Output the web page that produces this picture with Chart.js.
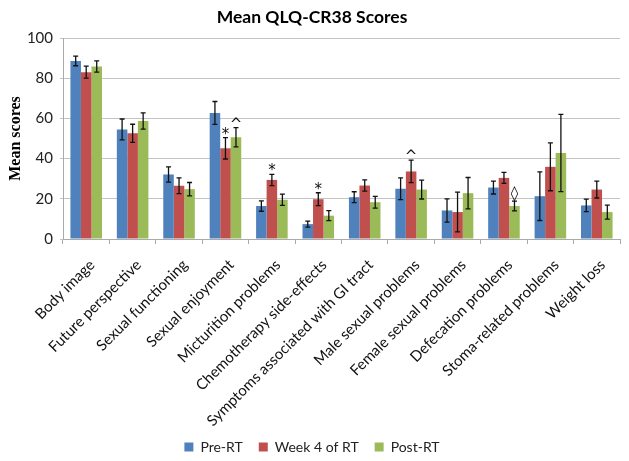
<!DOCTYPE html>
<html>
<head>
<meta charset="utf-8">
<script src="https://cdn.jsdelivr.net/npm/chart.js@4"></script>
<style>
  html, body { margin: 0; padding: 0; background: #fff; }
  #wrap { width: 629px; height: 461px; }
</style>
</head>
<body>
<div id="wrap"><canvas id="qlqChart" width="629" height="461"></canvas></div>
<script>
// values
const categories = ['Body image', 'Future perspective', 'Sexual functioning', 'Sexual enjoyment',
  'Micturition problems', 'Chemotherapy side-effects', 'Symptoms associated with GI tract',
  'Male sexual problems', 'Female sexual problems', 'Defecation problems',
  'Stoma-related problems', 'Weight loss'];
const seriesNames = ['Pre-RT', 'Week 4 of RT', 'Post-RT'];

const preRT     = [88.6, 54.5, 32.1, 62.7, 16.4, 7.4, 20.8, 25.0, 14.2, 25.6, 21.3, 16.7];
const preRTErr  = [2.4, 5.2, 3.8, 5.7, 2.6, 1.5, 2.7, 5.4, 5.8, 3.2, 12.1, 3.1];
const week4     = [83.0, 52.6, 26.5, 45.1, 29.4, 19.8, 26.6, 33.6, 13.4, 30.4, 35.9, 24.6];
const week4Err  = [3.0, 4.5, 3.9, 5.3, 2.8, 3.2, 2.8, 5.6, 9.9, 2.7, 11.9, 4.2];
const postRT    = [85.8, 58.7, 24.8, 50.6, 19.5, 11.6, 18.3, 24.6, 22.8, 16.4, 42.8, 13.4];
const postRTErr = [2.8, 4.0, 3.3, 4.8, 2.8, 2.5, 2.9, 4.7, 7.8, 2.4, 19.2, 3.5];

// significance markers above the bars
const preRTMarks  = ['', '', '', '', '', '', '', '', '', '', '', ''];
const week4Marks  = ['', '', '', '*', '*', '*', '', '^', '', '', '', ''];
const postRTMarks = ['', '', '', '^', '', '', '', '', '', '\u25CA', '', ''];

const yTicks = [0, 20, 40, 60, 80, 100];

const errors = [preRTErr, week4Err, postRTErr];
const marks = [preRTMarks, week4Marks, postRTMarks];

const errorBars = {
  id: 'errorBars',
  afterLayout(chart) {
    // nudge the legend down a little, and let the long x labels run into the legend band
    chart.legend.top += 3;
    chart.legend.bottom += 3;
    chart.scales.x.bottom += 20;
  },
  afterDatasetsDraw(chart) {
    const ctx = chart.ctx;
    const y = chart.scales.y;
    ctx.save();
    chart.data.datasets.forEach((ds, i) => {
      const meta = chart.getDatasetMeta(i);
      meta.data.forEach((bar, j) => {
        const v = ds.data[j], e = errors[i][j];
        const top = y.getPixelForValue(v + e);
        const bot = y.getPixelForValue(v - e);
        ctx.strokeStyle = '#111';
        ctx.lineWidth = 1.3;
        ctx.beginPath();
        ctx.moveTo(bar.x, top); ctx.lineTo(bar.x, bot);
        ctx.moveTo(bar.x - 2.5, top); ctx.lineTo(bar.x + 2.5, top);
        ctx.moveTo(bar.x - 2.5, bot); ctx.lineTo(bar.x + 2.5, bot);
        ctx.stroke();
        const m = marks[i][j];
        if (m) {
          ctx.fillStyle = '#111';
          ctx.font = '15px "DejaVu Sans"';
          ctx.textAlign = 'center';
          ctx.textBaseline = 'alphabetic';
          ctx.fillText(m, bar.x, m === '\u25CA' ? top - 3 : top + 1);
        }
      });
    });
    ctx.restore();
  }
};

function init() {
  new Chart(document.getElementById('qlqChart').getContext('2d'), {
    type: 'bar',
    data: {
      labels: categories,
      datasets: [
        { label: seriesNames[0], data: preRT, backgroundColor: '#4F81BD' },
        { label: seriesNames[1], data: week4, backgroundColor: '#C0504D' },
        { label: seriesNames[2], data: postRT, backgroundColor: '#9BBB59' }
      ]
    },
    options: {
      responsive: false,
      animation: false,
      categoryPercentage: 0.68,
      barPercentage: 1.0,
      layout: { padding: { left: 4, right: 9, top: 4, bottom: 0 } },
      plugins: {
        title: {
          display: true, text: 'Mean QLQ-CR38 Scores', color: '#000',
          font: { family: 'Lato', size: 17.5, weight: 'bold' },
          padding: { top: 3, bottom: 10 }
        },
        legend: {
          position: 'bottom',
          labels: {
            color: '#222', boxWidth: 9, boxHeight: 9, padding: 16,
            font: { family: 'Lato', size: 14 }
          }
        },
        tooltip: { enabled: false }
      },
      scales: {
        x: {
          afterFit(scale) { scale.height = 182; },
          grid: { display: true, drawOnChartArea: false, offset: true, tickLength: 5, color: '#aaa' },
          border: { color: '#aaa' },
          ticks: { color: '#111', minRotation: 45, maxRotation: 45, autoSkip: false,
            padding: 12, labelOffset: 6,
            font: { family: 'Lato', size: 15 } }
        },
        y: {
          min: 0, max: 100,
          afterFit(scale) { scale.width = 59; },
          afterBuildTicks(scale) { scale.ticks = yTicks.map(v => ({ value: v })); },
          grid: { color: '#c4c4c4', tickLength: 3 },
          border: { color: '#aaa' },
          ticks: { color: '#222', font: { family: 'Lato', size: 15 }, padding: 7 },
          title: { display: true, text: 'Mean scores', color: '#000',
            font: { family: 'Liberation Serif', size: 16, weight: 'bold' }, padding: 2 }
        }
      }
    },
    plugins: [errorBars]
  });
}

document.addEventListener('DOMContentLoaded', init);
</script>
</body>
</html>
